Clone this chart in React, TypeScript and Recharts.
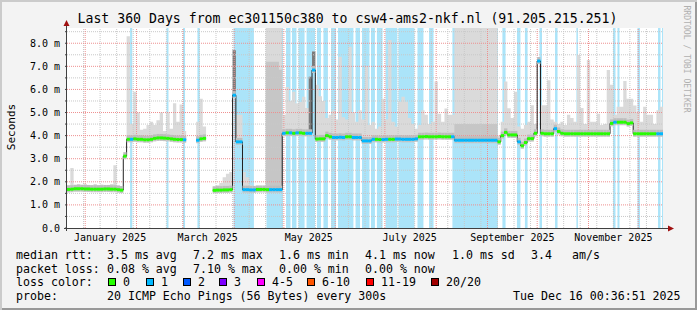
import React from 'react'
import {
  ComposedChart,
  Area,
  Line,
  Scatter,
  XAxis,
  YAxis,
  ReferenceArea,
  ReferenceLine,
} from 'recharts'

// one sample = 2 days, 180 samples over the last 360 days (day 0 = Dec 21 2024)
const STEP_DAYS = 2

// median rtt in ms per sample (null = no data)
const medianMs: (number | null)[] = [
  1.67, 1.68, 1.7, 1.7, 1.7, 1.69, 1.69, 1.68, 1.68, 1.68,
  1.68, 1.69, 1.69, 1.68, 1.68, 1.66, 1.64, 3.11, 3.84, 3.84,
  3.86, 3.84, 3.84, 3.82, 3.82, 3.84, 3.88, 3.9, 3.9, 3.89,
  3.88, 3.86, 3.84, 3.83, 3.83, 3.82, null, null, null, 3.8,
  3.86, 3.88, null, null, 1.63, 1.64, 1.64, 1.65, 1.65, 1.66,
  5.75, 3.73, 3.73, 1.66, 1.66, 1.65, 1.65, 1.67, 1.67, 1.67,
  1.66, 1.66, 1.66, 1.66, 1.66, 4.1, 4.12, 4.12, 4.1, 4.12,
  4.12, 4.1, 4.1, 4.1, 6.84, 3.85, 3.86, 3.86, 4.0, 3.95,
  3.92, 3.92, 3.93, 3.92, 3.95, 3.95, 3.92, 3.92, 3.92, 3.77,
  3.77, 3.77, 3.84, 3.84, 3.83, 3.83, 3.84, 3.84, 3.84, 3.85,
  3.85, 3.84, 3.84, 3.84, 3.84, 3.86, 3.95, 3.95, 3.96, 3.95,
  3.95, 3.95, 3.96, 3.95, 3.95, 3.95, 3.95, 3.8, 3.8, 3.8,
  3.8, 3.8, 3.8, 3.8, 3.8, 3.8, 3.8, 3.8, 3.8, 3.8,
  3.73, 4.0, 4.14, 4.03, 4.03, 4.03, 3.73, 3.56, 3.7, 3.87,
  3.87, 4.1, 7.23, 4.1, 4.08, 4.08, 4.08, 4.3, 4.18, 4.1,
  4.08, 4.08, 4.08, 4.08, 4.08, 4.08, 4.08, 4.08, 4.08, 4.08,
  4.08, 4.08, 4.08, 4.08, 4.53, 4.58, 4.58, 4.58, 4.58, 4.52,
  4.55, 4.08, 4.08, 4.08, 4.08, 4.08, 4.08, 4.08, 4.08, 4.08,
]

// lost pings per sample (0 = none, 1 = 1/20)
const lossLevel: number[] = [
  0, 0, 0, 0, 0, 0, 0, 0, 0, 0,
  0, 0, 0, 0, 0, 0, 0, 0, 0, 1,
  0, 0, 0, 0, 0, 0, 0, 0, 0, 0,
  0, 0, 0, 0, 0, 1, 0, 0, 0, 1,
  0, 0, 0, 0, 0, 0, 0, 0, 0, 0,
  1, 1, 1, 1, 1, 1, 1, 0, 0, 0,
  0, 1, 1, 1, 1, 1, 0, 1, 0, 1,
  0, 0, 1, 1, 1, 0, 0, 0, 0, 0,
  1, 1, 1, 1, 0, 0, 1, 1, 1, 1,
  1, 1, 1, 0, 0, 1, 1, 0, 0, 1,
  1, 1, 1, 1, 1, 1, 0, 0, 0, 0,
  0, 0, 0, 0, 0, 0, 1, 1, 1, 1,
  1, 1, 1, 1, 1, 1, 1, 1, 1, 1,
  0, 0, 0, 0, 0, 0, 1, 0, 0, 0,
  0, 0, 1, 0, 0, 0, 0, 1, 0, 0,
  0, 0, 0, 0, 0, 0, 0, 0, 0, 0,
  0, 0, 0, 0, 0, 1, 0, 0, 0, 0,
  0, 0, 0, 0, 0, 0, 0, 0, 1, 1,
]

// highest ping of each sample (smoke top), ms
const smokeTopMs: (number | null)[] = [
  1.85, 2.6, 1.85, 1.9, 1.85, 1.9, 1.85, 1.85, 1.9, 1.85,
  1.88, 1.85, 1.85, 1.9, 2.72, 1.85, 1.82, 3.2, 8.3, 4.5,
  5.9, 5.0, 4.25, 4.3, 4.46, 4.6, 4.46, 4.67, 5.0, 4.2,
  5.0, 4.3, 5.4, 4.6, 5.35, 4.2, null, null, null, 4.6,
  5.6, 4.4, null, null, 1.8, 1.85, 1.95, 2.2, 2.35, 2.43,
  7.7, 4.9, 4.9, 2.43, 2.2, 1.85, 1.8, 1.8, 1.8, 1.8,
  8.66, 8.66, 8.66, 8.66, 8.66, 4.9, 6.1, 5.5, 5.9, 5.4,
  5.46, 5.68, 5.2, 6.55, 7.64, 6.2, 5.7, 5.5, 4.76, 4.9,
  5.1, 4.7, 7.42, 4.8, 4.7, 7.85, 5.0, 4.6, 5.1, 4.7,
  7.0, 4.46, 4.6, 4.3, 4.4, 5.6, 4.7, 8.14, 4.6, 4.4,
  5.47, 5.68, 5.47, 4.76, 4.5, 4.3, 4.46, 5.1, 4.9, 4.5,
  4.6, 6.34, 4.95, 4.6, 5.17, 4.9, 4.9, 8.66, 8.66, 8.66,
  8.66, 8.66, 8.66, 8.66, 8.66, 8.66, 8.66, 8.66, 8.66, 8.66,
  4.0, 4.6, 6.34, 5.18, 4.76, 5.9, 4.4, 4.3, 4.46, 4.6,
  5.32, 4.5, 7.25, 5.32, 5.32, 6.4, 4.7, 4.6, 4.5, 4.6,
  4.46, 4.9, 4.76, 4.6, 7.49, 5.2, 4.5, 7.27, 4.6, 4.6,
  4.95, 4.46, 4.5, 6.84, 6.2, 4.9, 5.25, 5.25, 6.36, 5.6,
  5.6, 5.3, 5.0, 4.6, 5.25, 4.9, 4.9, 4.5, 5.1, 5.25,
]

// denser inner smoke where it shows: [sample, ms]
const smokeMidMs: [number, number][] = [
  [60, 7.2], [61, 7.2], [62, 7.2], [63, 7.2], [64, 6.85],
  [117, 4.5], [118, 4.5], [119, 4.5], [120, 4.5], [121, 4.5], [122, 4.5], [123, 4.5],
  [124, 4.5], [125, 4.5], [126, 4.5], [127, 4.5], [128, 4.5], [129, 4.5],
]

// samples where all pings were slow: [sample, ms]
const smokeDarkMs: [number, number][] = [[50, 7.7], [73, 6.55], [74, 7.64], [142, 7.23]]

// packet loss background, [from day, to day]
const lossBandsDays: [number, number][] = [
  [38.1, 39.4], [60.1, 61.3], [70.1, 71.3], [78.8, 80.2], [100.6, 112.9],
  [120.5, 130.5], [132.3, 135], [135.9, 138.6], [139.8, 143.5], [144.7, 149.8],
  [151, 153.4], [154.9, 157.6], [159.5, 162.5], [163.7, 173], [174.3, 177],
  [178.2, 182.7], [183.6, 186], [187.2, 190.6], [192.4, 199.5], [200.2, 209.9],
  [211.7, 215.3], [218.7, 221.4], [232.8, 260.3], [263, 264.9], [271.8, 273.9],
  [276.6, 278.2], [285.4, 286.9], [294.8, 296.3], [307.7, 308.6], [329.8, 331.3],
  [332.5, 333.7], [344.6, 346.1], [357, 358.5], [359.4, 360],
]

const monthStartDays = [11, 42, 70, 101, 131, 162, 192, 223, 254, 284, 315, 345]
const tenDayDays = [
  10, 20, 30, 40, 50, 60, 70, 80, 90, 100, 110, 120, 130, 140, 150, 160, 170, 180,
  190, 200, 210, 220, 230, 240, 250, 260, 270, 280, 290, 300, 310, 320, 330, 340, 350,
]
const xLabelDays = [26, 85, 146, 207, 269, 330]
const xLabelNames = ['January 2025', 'March 2025', 'May 2025', 'July 2025', 'September 2025', 'November 2025']
const yMajor = [1, 2, 3, 4, 5, 6, 7, 8]
const yMinor = [0.5, 1.5, 2.5, 3.5, 4.5, 5.5, 6.5, 7.5, 8.5]
const yTicks = [0, 0.5, 1, 1.5, 2, 2.5, 3, 3.5, 4, 4.5, 5, 5.5, 6, 6.5, 7, 7.5, 8, 8.5]

const lossLabels = ['0', '1', '2', '3', '4-5', '6-10', '11-19', '20/20']
const lossColors = ['#26ff00', '#00b8ff', '#0059ff', '#7e00ff', '#ff00ff', '#ff5500', '#ff0000', '#a10000']

const rttStats = ['3.5 ms avg', '7.2 ms max', '1.6 ms min', '4.1 ms now', '1.0 ms sd', '3.4', 'am/s']
const lossStats = ['0.08 % avg', '7.10 % max', '0.00 % min', '0.00 % now']
const probeText = '20 ICMP Echo Pings (56 Bytes) every 300s'
const stampText = 'Tue Dec 16 00:36:51 2025'
const titleText = 'Last 360 Days from ec301150c380 to csw4-ams2-nkf.nl (91.205.215.251)'

const MONO = "'DejaVu Sans Mono', monospace"
const Y_MAX = 8.66
const PLOT_W = 596
const SEG_PX = PLOT_W / medianMs.length
const LOSS_BG = '#abe4f9'

// each sample becomes a flat step from its start day to its end day
const midMap = new Map(smokeMidMs)
const darkMap = new Map(smokeDarkMs)
const rows: any[] = []
medianMs.forEach((m, i) => {
  const top = smokeTopMs[i]
  const r = {
    med: m,
    smoke: m == null || top == null ? null : [m, top],
    mid: m != null && midMap.has(i) ? [m, midMap.get(i)] : null,
    dark: m != null && darkMap.has(i) ? [m, darkMap.get(i)] : null,
  }
  rows.push({ day: i * STEP_DAYS, ...r }, { day: (i + 1) * STEP_DAYS, ...r })
})

const allPoints = medianMs
  .map((m, i) => ({ day: i * STEP_DAYS, med: m, loss: lossLevel[i] }))
  .filter((p) => p.med != null)
const medPoints = (level: number) => allPoints.filter((p) => p.loss === level)

// horizontal pieces only: the thin black median line shows the jumps
const bandShape = (color: string) => (p: any) => (
  <rect x={p.cx} y={p.cy - 1.5} width={SEG_PX} height={3} fill={color} />
)
const coreShape = (p: any) => (
  <g>
    <rect x={p.cx} y={p.cy - 4} width={SEG_PX} height={3} fill="#bdbdbd" />
    <rect x={p.cx} y={p.cy + 1} width={SEG_PX} height={2} fill="#c4c4c4" />
  </g>
)

const fmtY = (v: number) => (v === 0 ? '0.0' : Number.isInteger(v) ? `${v.toFixed(1)} m` : '')

function Txt({ x, y, children, style }: { x: number; y: number; children: React.ReactNode; style?: React.CSSProperties }) {
  return (
    <div
      style={{
        position: 'absolute',
        left: x,
        top: y,
        fontFamily: MONO,
        fontSize: 11.6,
        lineHeight: '14px',
        whiteSpace: 'pre',
        color: '#000',
        ...style,
      }}
    >
      {children}
    </div>
  )
}

const statX = [107, 193, 279, 365, 452, 531, 572]
const swatchX = [108, 146, 183, 219, 257, 307, 366, 431]

export default function App() {
  return (
    <div
      style={{
        position: 'absolute',
        left: 0,
        top: 0,
        width: 697,
        height: 310,
        background: '#f3f3f3',
        boxShadow: 'inset 2px 2px 0 #cbcbcb, inset -2px -2px 0 #999999',
        overflow: 'hidden',
      }}
    >
      <div style={{ position: 'absolute', left: 67, top: 28, width: PLOT_W, height: 200, background: '#fff' }} />
      <div style={{ position: 'absolute', left: 0, top: 0 }}>
        <ComposedChart width={697} height={310} data={rows} margin={{ top: 28, right: 34, bottom: 62, left: 7 }}>
          <XAxis
            type="number"
            dataKey="day"
            domain={[0, 360]}
            ticks={xLabelDays}
            interval={0}
            tickFormatter={(d: number) => xLabelNames[xLabelDays.indexOf(d)] ?? ''}
            axisLine={false}
            tickLine={false}
            tickSize={6}
            tickMargin={0}
            height={20}
            allowDataOverflow
            tick={{ fontSize: 10, fill: '#000', fontFamily: MONO }}
          />
          <YAxis
            type="number"
            domain={[0, Y_MAX]}
            ticks={yTicks}
            interval={0}
            tickFormatter={fmtY}
            axisLine={false}
            tickLine={{ stroke: '#404040' }}
            tickSize={2}
            tickMargin={5}
            width={60}
            allowDataOverflow
            tick={{ fontSize: 10, fill: '#000', fontFamily: MONO }}
          />
          {lossBandsDays.map(([a, b], k) => (
            <ReferenceArea
              key={`loss${k}`}
              x1={a}
              x2={b}
              y1={0}
              y2={Y_MAX}
              fill={LOSS_BG}
              fillOpacity={1}
              stroke="none"
              zIndex={50}
            />
          ))}
          <Area dataKey="smoke" type="linear" fill="#dadada" fillOpacity={1} stroke="none" dot={false} activeDot={false} isAnimationActive={false} />
          <Area dataKey="mid" type="linear" fill="#c6c6c6" fillOpacity={1} stroke="none" dot={false} activeDot={false} isAnimationActive={false} />
          <Area dataKey="dark" type="linear" fill="#7a7a7a" fillOpacity={1} stroke="none" dot={false} activeDot={false} isAnimationActive={false} />
          {tenDayDays.map((d) => (
            <ReferenceLine key={`g${d}`} x={d} stroke="#c8c8c8" strokeDasharray="1 1" zIndex={150} />
          ))}
          {yMinor.map((v) => (
            <ReferenceLine key={`h${v}`} y={v} stroke="#c8c8c8" strokeDasharray="1 1" zIndex={150} />
          ))}
          {monthStartDays.map((d) => (
            <ReferenceLine key={`m${d}`} x={d} stroke="#ee9090" strokeDasharray="1 1" zIndex={150} />
          ))}
          {yMajor.map((v) => (
            <ReferenceLine key={`M${v}`} y={v} stroke="#ee9090" strokeDasharray="1 1" zIndex={150} />
          ))}
          <Scatter data={allPoints} dataKey="med" shape={coreShape} isAnimationActive={false} />
          <Line dataKey="med" type="linear" stroke="#202020" strokeWidth={1} dot={false} activeDot={false} isAnimationActive={false} />
          <Scatter data={medPoints(0)} dataKey="med" shape={bandShape(lossColors[0])} isAnimationActive={false} />
          <Scatter data={medPoints(1)} dataKey="med" shape={bandShape(lossColors[1])} isAnimationActive={false} />
        </ComposedChart>
      </div>

      <svg width={697} height={310} style={{ position: 'absolute', left: 0, top: 0, pointerEvents: 'none' }}>
        <line x1={66.5} y1={231} x2={66.5} y2={24} stroke="#404040" strokeWidth={1} />
        <line x1={64} y1={228.5} x2={669} y2={228.5} stroke="#404040" strokeWidth={1} />
        <polygon points="63.5,26 69.5,26 66.5,20" fill="#a01010" />
        <polygon points="668,225.5 668,231.5 674,228.5" fill="#a01010" />
      </svg>

      <div
        style={{
          position: 'absolute',
          left: 0,
          top: 10.5,
          width: 695,
          textAlign: 'center',
          fontFamily: MONO,
          fontSize: 13.2,
          lineHeight: '16px',
          whiteSpace: 'pre',
        }}
      >
        {titleText}
      </div>
      <div
        style={{
          position: 'absolute',
          left: 11,
          top: 127,
          transform: 'translate(-50%, -50%) rotate(-90deg)',
          fontFamily: MONO,
          fontSize: 11,
          whiteSpace: 'pre',
        }}
      >
        Seconds
      </div>
      <div
        style={{
          position: 'absolute',
          left: 687,
          top: 59,
          transform: 'translate(-50%, -50%) rotate(90deg)',
          fontFamily: MONO,
          fontSize: 8.1,
          color: '#b0b0b0',
          whiteSpace: 'pre',
        }}
      >
        RRDTOOL / TOBI OETIKER
      </div>

      <Txt x={16} y={248}>median rtt:</Txt>
      {rttStats.map((s, k) => (
        <Txt key={`r${k}`} x={statX[k]} y={248}>{s}</Txt>
      ))}
      <Txt x={16} y={261.5}>packet loss:</Txt>
      {lossStats.map((s, k) => (
        <Txt key={`l${k}`} x={statX[k]} y={261.5}>{s}</Txt>
      ))}
      <Txt x={16} y={275.3}>loss color:</Txt>
      {lossLabels.map((lab, k) => (
        <React.Fragment key={`c${k}`}>
          <div
            style={{
              position: 'absolute',
              left: swatchX[k],
              top: 278,
              width: 8,
              height: 8,
              boxSizing: 'border-box',
              border: '1px solid #000',
              background: lossColors[k],
            }}
          />
          <Txt x={swatchX[k] + 15} y={275.3}>{lab}</Txt>
        </React.Fragment>
      ))}
      <Txt x={16} y={289}>probe:</Txt>
      <Txt x={107} y={289}>{probeText}</Txt>
      <Txt x={513} y={289}>{stampText}</Txt>
    </div>
  )
}
